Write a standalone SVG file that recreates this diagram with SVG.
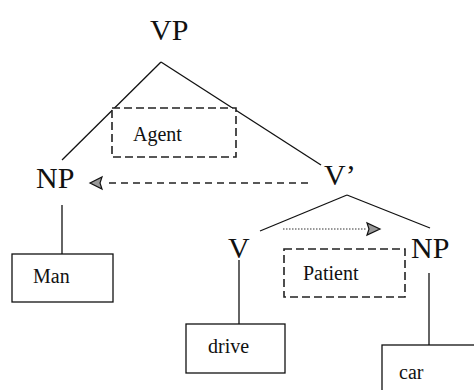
<svg xmlns="http://www.w3.org/2000/svg" width="474" height="390" viewBox="0 0 474 390">
<defs>
<style>
.lbl{font-family:"Liberation Serif","Times New Roman",serif;fill:#111;}
.big{font-size:30px;}
.sm{font-size:20px;}
.box{fill:#fff;stroke:#111;stroke-width:1.3;}
.role{fill:#fff;stroke:#222;stroke-width:1.6;stroke-dasharray:8,4;}
.edge{fill:none;stroke:#111;stroke-width:1.3;}
.dash{fill:none;stroke:#222;stroke-width:1.3;stroke-dasharray:7,5;}
.dot{fill:none;stroke:#333;stroke-width:1.2;stroke-dasharray:1.5,1.5;}
.head{fill:#999;stroke:#111;stroke-width:1.2;}
</style>
</defs>
<rect width="474" height="390" fill="#fff"/>
<g id="connectors">
<line class="edge" x1="161" y1="62" x2="62" y2="160"/>
<line class="edge" x1="161" y1="62" x2="321" y2="165"/>
<line class="edge" x1="62" y1="205" x2="62" y2="254"/>
<line class="edge" x1="347" y1="195" x2="260" y2="231"/>
<line class="edge" x1="347" y1="195" x2="430" y2="228"/>
<line class="edge" x1="239" y1="260" x2="239" y2="324"/>
<line class="edge" x1="429" y1="273" x2="429" y2="345"/>
<line class="dash" x1="308" y1="183" x2="104" y2="183"/>
<polygon class="head" points="90,183 102,177 100,183 102,189"/>
<line class="dot" x1="283" y1="229" x2="367" y2="229"/>
<polygon class="head" points="380,229 367,223 369,229 367,235"/>
</g>
<g id="VP"><text class="lbl big" x="150" y="40">VP</text></g>
<g id="NP1"><text class="lbl big" x="36" y="188">NP</text></g>
<g id="Vbar"><text class="lbl big" x="324" y="185">V’</text></g>
<g id="V"><text class="lbl big" x="228" y="258">V</text></g>
<g id="NP2"><text class="lbl big" x="411" y="258">NP</text></g>
<g id="Agent">
<rect class="role" x="112" y="108" width="124" height="49"/>
<text class="lbl sm" x="133" y="141">Agent</text>
</g>
<g id="Patient">
<rect class="role" x="284" y="249" width="121" height="48"/>
<text class="lbl sm" x="303" y="280">Patient</text>
</g>
<g id="Man">
<rect class="box" x="12" y="254" width="101" height="48"/>
<text class="lbl sm" x="33" y="283">Man</text>
</g>
<g id="drive">
<rect class="box" x="186" y="324" width="99" height="49"/>
<text class="lbl sm" x="208" y="353">drive</text>
</g>
<g id="car">
<rect class="box" x="382" y="345" width="100" height="60"/>
<text class="lbl sm" x="399" y="379">car</text>
</g>
</svg>
